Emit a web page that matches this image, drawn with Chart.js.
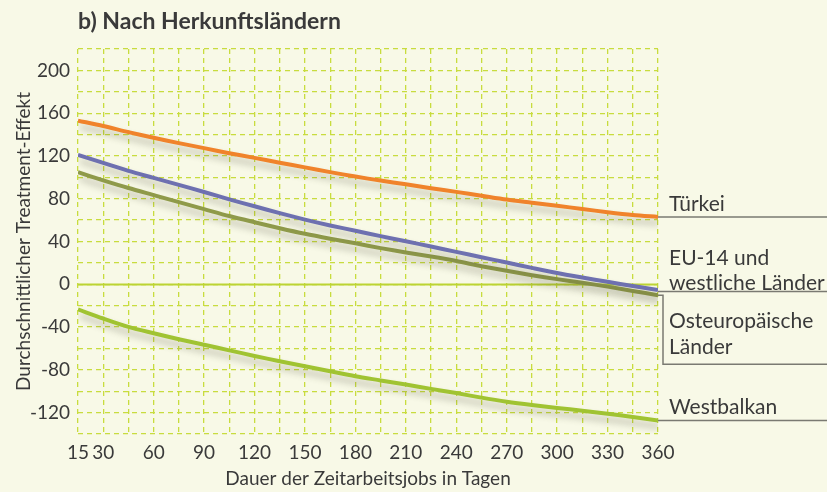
<!DOCTYPE html>
<html><head><meta charset="utf-8">
<script src="https://cdn.jsdelivr.net/npm/chart.js@4/dist/chart.umd.min.js"></script>
<style>html,body{margin:0;padding:0;background:#f8f9e7;}#wrap{width:827px;height:492px;position:relative;}</style>
</head><body><div id="wrap"><canvas id="c" width="827" height="492"></canvas></div>
<script>
const chartTitle = 'b) Nach Herkunftsländern';
const xTitle = 'Dauer der Zeitarbeitsjobs in Tagen';
const yTitle = 'Durchschnittlicher Treatment-Effekt';
const days = [15,30,45,60,75,90,105,120,135,150,165,180,195,210,225,240,255,270,285,300,315,330,345,360];
const tuerkei = [153,148,142.3,137,132,127.3,122.6,118.2,113.7,109.3,104.9,100.7,97,93.5,89.8,86.4,82.8,79.2,76.3,73.4,70.4,67.4,64.8,63];
const eu14 = [121,113.5,106,99.5,93,86.3,79.4,73,66.5,60.5,55,50,45,40.2,35.3,30.3,25.3,20.3,15.3,10.5,6.3,2.3,-1.6,-5.3];
const osteuropa = [104.8,97.2,90,83.4,76.8,70.3,63.8,58,52.4,47.2,42.6,38.3,33.8,29.8,25.9,21.7,16.9,12.6,8.5,4.8,1.5,-2.2,-6.2,-10.3];
const westbalkan = [-23.5,-32,-39.8,-45.8,-51.4,-56.5,-61.8,-67,-72,-76.7,-81.4,-86,-89.9,-93.8,-97.8,-101.7,-106,-109.8,-112.9,-115.6,-118.2,-121,-124.1,-127.3];
const xLabelTicks = [15,30,60,90,120,150,180,210,240,270,300,330,360];
const yLabelTicks = [-120,-80,-40,0,40,80,120,160,200];
const labelLines = {tuerkei:['Türkei'], eu14:['EU-14 und','westliche Länder'], osteuropa:['Osteuropäische','Länder'], westbalkan:['Westbalkan']};

const pts = arr => days.map((d,i)=>({x:d,y:arr[i]}));
const FONT = 'Lato';

const shadowPlugin = {
  id:'shadow',
  beforeDatasetDraw(chart){const c=chart.ctx;c.save();c.shadowColor='rgba(70,70,50,0.33)';c.shadowBlur=7;c.shadowOffsetX=2;c.shadowOffsetY=6;},
  afterDatasetDraw(chart){chart.ctx.restore();}
};
const zeroPlugin = {
  id:'zero',
  beforeDatasetsDraw(chart){
    const {ctx, chartArea:{left,right}, scales:{y}} = chart;
    const yy = Math.round(y.getPixelForValue(0))+0.5;
    ctx.save();ctx.strokeStyle='#bcd434';ctx.lineWidth=2;ctx.beginPath();ctx.moveTo(left,yy);ctx.lineTo(right,yy);ctx.stroke();ctx.restore();
  }
};
const textPlugin = {
  id:'texts',
  afterDraw(chart){
    const {ctx, chartArea:{left,right}, scales:{y}} = chart;
    const W = chart.width;
    ctx.save();
    ctx.fillStyle='#3a3a3a';
    ctx.font='bold 23px '+FONT;ctx.textBaseline='middle';ctx.textAlign='left';
    ctx.fillText(chartTitle, left, 22);
    ctx.strokeStyle='#7a7a72';ctx.lineWidth=1.5;
    ctx.font='21px '+FONT;
    const tx = right+11;
    const seg = (p)=>{ctx.beginPath();ctx.moveTo(p[0][0],p[0][1]);for(let i=1;i<p.length;i++)ctx.lineTo(p[i][0],p[i][1]);ctx.stroke();};
    let yy = y.getPixelForValue(tuerkei[tuerkei.length-1]);
    seg([[right,yy],[W,yy]]);
    ctx.fillText(labelLines.tuerkei[0], tx, yy-13);
    yy = y.getPixelForValue(eu14[eu14.length-1])+1.5;
    seg([[right,yy],[W,yy]]);
    ctx.fillText(labelLines.eu14[0], tx, yy-33);
    ctx.fillText(labelLines.eu14[1], tx, yy-8);
    yy = y.getPixelForValue(osteuropa[osteuropa.length-1]);
    seg([[right,yy],[right+5,yy],[right+5,yy+69],[W,yy+69]]);
    ctx.fillText(labelLines.osteuropa[0], tx, yy+26);
    ctx.fillText(labelLines.osteuropa[1], tx, yy+52);
    yy = y.getPixelForValue(westbalkan[westbalkan.length-1]);
    seg([[right,yy],[W,yy]]);
    ctx.fillText(labelLines.westbalkan[0], tx, yy-13);
    ctx.restore();
  }
};

const ds = (label, arr, color, order) => ({label, data:pts(arr), borderColor:color, borderWidth:4, pointRadius:0, tension:0.3, fill:false, order, borderCapStyle:'butt'});

new Chart(document.getElementById('c'), {
  type:'line',
  data:{datasets:[
    ds('Türkei', tuerkei, '#f0832b', 1),
    ds('EU-14 und westliche Länder', eu14, '#6e70b0', 2),
    ds('Osteuropäische Länder', osteuropa, '#8f9a4a', 3),
    ds('Westbalkan', westbalkan, '#a0c332', 4)
  ]},
  options:{
    responsive:false, animation:false, devicePixelRatio:1,
    layout:{padding:{top:49,right:169,left:0,bottom:0}},
    plugins:{legend:{display:false}, tooltip:{enabled:false}, title:{display:false}},
    scales:{
      x:{type:'linear', min:15, max:360,
        afterFit(s){s.height=58;},
        ticks:{stepSize:15, autoSkip:false, maxRotation:0, padding:7, color:'#3a3a3a', font:{family:FONT,size:19},
          callback:v=> xLabelTicks.includes(v)? String(v) : ''},
        grid:{color:'#c8dc3e', lineWidth:1.3, drawTicks:false},
        border:{display:false, dash:[5,4]},
        title:{display:true, text:xTitle, color:'#3a3a3a', font:{family:FONT,size:19}, padding:{top:0,bottom:2}}
      },
      y:{min:-140, max:220,
        afterFit(s){s.width=78;},
        ticks:{stepSize:20, autoSkip:false, padding:8, color:'#3a3a3a', font:{family:FONT,size:19},
          callback:v=> yLabelTicks.includes(v)? String(v) : ''},
        grid:{color:'#c8dc3e', lineWidth:1.3, drawTicks:false},
        border:{display:false, dash:[5,4]},
        title:{display:true, text:yTitle, color:'#3a3a3a', font:{family:FONT,size:19}, padding:{top:12,bottom:0}}
      }
    }
  },
  plugins:[shadowPlugin, zeroPlugin, textPlugin]
});
</script></body></html>
